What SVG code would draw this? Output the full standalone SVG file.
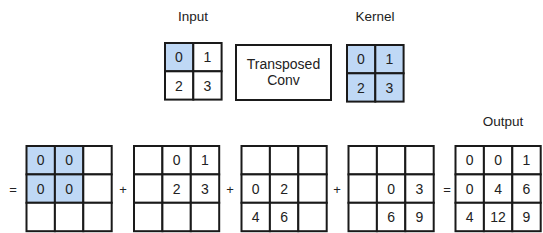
<svg xmlns="http://www.w3.org/2000/svg" width="543" height="233" viewBox="0 0 543 233">
<style>
.c{fill:#ffffff;stroke:#1a1a1a;stroke-width:2}
.b{fill:#bfd8f5;stroke:#1a1a1a;stroke-width:2}
text{font-family:"Liberation Sans",Arial,sans-serif;fill:#222;text-anchor:middle}
.n{font-size:14px}
.l{font-size:13.5px}
.t{font-size:14px}
.op{font-size:13px}
</style>
<rect width="543" height="233" fill="#ffffff"/>
<g id="labels">
<text class="l" x="193" y="21">Input</text>
<text class="l" x="375" y="21">Kernel</text>
<text class="l" x="503" y="126">Output</text>
</g>
<g id="input">
<rect class="b" x="165" y="43" width="28.3" height="28.3"/>
<rect class="c" x="193.3" y="43" width="28.3" height="28.3"/>
<rect class="c" x="165" y="71.3" width="28.3" height="28.3"/>
<rect class="c" x="193.3" y="71.3" width="28.3" height="28.3"/>
<text class="n" x="179" y="62">0</text><text class="n" x="207.5" y="62">1</text>
<text class="n" x="179" y="90.5">2</text><text class="n" x="207.5" y="90.5">3</text>
</g>
<g id="transposed-conv">
<rect class="c" x="236" y="45" width="95" height="55"/>
<text class="t" x="283.5" y="69">Transposed</text>
<text class="t" x="283.5" y="84.5">Conv</text>
</g>
<g id="kernel">
<rect class="b" x="347" y="45" width="28.3" height="28.3"/>
<rect class="b" x="375.3" y="45" width="28.3" height="28.3"/>
<rect class="b" x="347" y="73.3" width="28.3" height="28.3"/>
<rect class="b" x="375.3" y="73.3" width="28.3" height="28.3"/>
<text class="n" x="361" y="64">0</text><text class="n" x="389.5" y="64">1</text>
<text class="n" x="361" y="92.5">2</text><text class="n" x="389.5" y="92.5">3</text>
</g>
<g id="operators">
<text class="op" x="13" y="194">=</text>
<text class="op" x="123" y="194">+</text>
<text class="op" x="230" y="194">+</text>
<text class="op" x="337" y="194">+</text>
<text class="op" x="447" y="194">=</text>
</g>
<g id="grid1">
<rect class="b" x="26.5" y="146" width="28.4" height="28.4"/><rect class="b" x="54.9" y="146" width="28.4" height="28.4"/><rect class="c" x="83.3" y="146" width="28.4" height="28.4"/>
<rect class="b" x="26.5" y="174.4" width="28.4" height="28.4"/><rect class="b" x="54.9" y="174.4" width="28.4" height="28.4"/><rect class="c" x="83.3" y="174.4" width="28.4" height="28.4"/>
<rect class="c" x="26.5" y="202.8" width="28.4" height="28.4"/><rect class="c" x="54.9" y="202.8" width="28.4" height="28.4"/><rect class="c" x="83.3" y="202.8" width="28.4" height="28.4"/>
<text class="n" x="40.7" y="165">0</text><text class="n" x="69.1" y="165">0</text>
<text class="n" x="40.7" y="193.5">0</text><text class="n" x="69.1" y="193.5">0</text>
</g>
<g id="grid2">
<rect class="c" x="134" y="146" width="28.4" height="28.4"/><rect class="c" x="162.4" y="146" width="28.4" height="28.4"/><rect class="c" x="190.8" y="146" width="28.4" height="28.4"/>
<rect class="c" x="134" y="174.4" width="28.4" height="28.4"/><rect class="c" x="162.4" y="174.4" width="28.4" height="28.4"/><rect class="c" x="190.8" y="174.4" width="28.4" height="28.4"/>
<rect class="c" x="134" y="202.8" width="28.4" height="28.4"/><rect class="c" x="162.4" y="202.8" width="28.4" height="28.4"/><rect class="c" x="190.8" y="202.8" width="28.4" height="28.4"/>
<text class="n" x="176.6" y="165">0</text><text class="n" x="205" y="165">1</text>
<text class="n" x="176.6" y="193.5">2</text><text class="n" x="205" y="193.5">3</text>
</g>
<g id="grid3">
<rect class="c" x="241.5" y="146" width="28.4" height="28.4"/><rect class="c" x="269.9" y="146" width="28.4" height="28.4"/><rect class="c" x="298.3" y="146" width="28.4" height="28.4"/>
<rect class="c" x="241.5" y="174.4" width="28.4" height="28.4"/><rect class="c" x="269.9" y="174.4" width="28.4" height="28.4"/><rect class="c" x="298.3" y="174.4" width="28.4" height="28.4"/>
<rect class="c" x="241.5" y="202.8" width="28.4" height="28.4"/><rect class="c" x="269.9" y="202.8" width="28.4" height="28.4"/><rect class="c" x="298.3" y="202.8" width="28.4" height="28.4"/>
<text class="n" x="255.7" y="193.5">0</text><text class="n" x="284.1" y="193.5">2</text>
<text class="n" x="255.7" y="222">4</text><text class="n" x="284.1" y="222">6</text>
</g>
<g id="grid4">
<rect class="c" x="348.5" y="146" width="28.4" height="28.4"/><rect class="c" x="376.9" y="146" width="28.4" height="28.4"/><rect class="c" x="405.3" y="146" width="28.4" height="28.4"/>
<rect class="c" x="348.5" y="174.4" width="28.4" height="28.4"/><rect class="c" x="376.9" y="174.4" width="28.4" height="28.4"/><rect class="c" x="405.3" y="174.4" width="28.4" height="28.4"/>
<rect class="c" x="348.5" y="202.8" width="28.4" height="28.4"/><rect class="c" x="376.9" y="202.8" width="28.4" height="28.4"/><rect class="c" x="405.3" y="202.8" width="28.4" height="28.4"/>
<text class="n" x="391.1" y="193.5">0</text><text class="n" x="419.5" y="193.5">3</text>
<text class="n" x="391.1" y="222">6</text><text class="n" x="419.5" y="222">9</text>
</g>
<g id="output">
<rect class="c" x="455.5" y="146" width="28.4" height="28.4"/><rect class="c" x="483.9" y="146" width="28.4" height="28.4"/><rect class="c" x="512.3" y="146" width="28.4" height="28.4"/>
<rect class="c" x="455.5" y="174.4" width="28.4" height="28.4"/><rect class="c" x="483.9" y="174.4" width="28.4" height="28.4"/><rect class="c" x="512.3" y="174.4" width="28.4" height="28.4"/>
<rect class="c" x="455.5" y="202.8" width="28.4" height="28.4"/><rect class="c" x="483.9" y="202.8" width="28.4" height="28.4"/><rect class="c" x="512.3" y="202.8" width="28.4" height="28.4"/>
<text class="n" x="469.7" y="165">0</text><text class="n" x="498.1" y="165">0</text><text class="n" x="526.5" y="165">1</text>
<text class="n" x="469.7" y="193.5">0</text><text class="n" x="498.1" y="193.5">4</text><text class="n" x="526.5" y="193.5">6</text>
<text class="n" x="469.7" y="222">4</text><text class="n" x="498.1" y="222">12</text><text class="n" x="526.5" y="222">9</text>
</g>
</svg>
